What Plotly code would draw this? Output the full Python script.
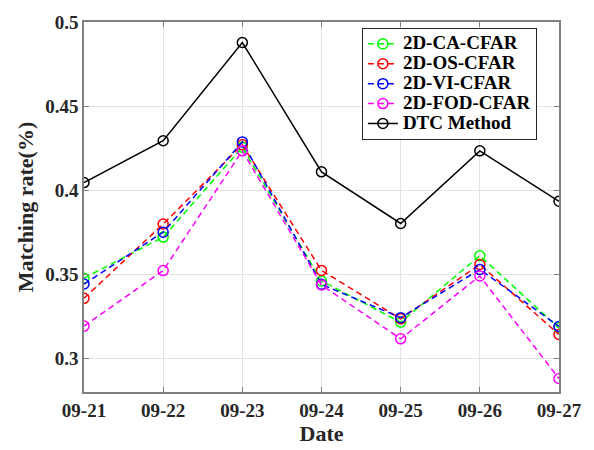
import plotly.graph_objects as go

dates = ["09-21", "09-22", "09-23", "09-24", "09-25", "09-26", "09-27"]
ca_cfar = [0.3477, 0.3721, 0.4255, 0.3460, 0.3215, 0.3610, 0.3180]
os_cfar = [0.3357, 0.3799, 0.4270, 0.3523, 0.3235, 0.3558, 0.3142]
vi_cfar = [0.3442, 0.3750, 0.4287, 0.3440, 0.3242, 0.3529, 0.3190]
fod_cfar = [0.3192, 0.3522, 0.4234, 0.3436, 0.3116, 0.3490, 0.2880]
dtc = [0.4045, 0.4294, 0.4878, 0.4109, 0.3802, 0.4234, 0.3934]

series = [
    ("2D-CA-CFAR", ca_cfar, "#00ff00", "dash"),
    ("2D-OS-CFAR", os_cfar, "#ff0000", "dash"),
    ("2D-VI-CFAR", vi_cfar, "#0000ff", "dash"),
    ("2D-FOD-CFAR", fod_cfar, "#ff00ff", "dash"),
    ("DTC Method", dtc, "#000000", "solid"),
]

x_idx = list(range(len(dates)))
fig = go.Figure()
for name, vals, color, dash in series:
    fig.add_trace(go.Scatter(
        x=x_idx, y=vals,
        name='<span style="font-size:19px"><b>%s</b></span>' % name,
        mode="lines+markers",
        line=dict(color=color, width=1.5, dash="solid" if dash == "solid" else "6px,4px"),
        marker=dict(symbol="circle-open", size=10, color=color, line=dict(width=1.5, color=color)),
    ))

font_family = "Liberation Serif, Times New Roman, serif"
fig.update_layout(
    width=594, height=450,
    margin=dict(l=84, r=35, t=15, b=58),
    paper_bgcolor="white", plot_bgcolor="white",
    font=dict(family=font_family, size=19, color="#262626"),
    showlegend=True,
    legend=dict(
        x=0.585, y=0.984, xanchor="left", yanchor="top",
        bgcolor="white", bordercolor="#262626", borderwidth=1,
        font=dict(family=font_family, size=13, color="#000000"),
        tracegroupgap=0,
    ),
)
fig.update_xaxes(
    range=[0, 6], tickmode="array", tickvals=x_idx, ticktext=["<b>%s</b>" % d for d in dates],
    showgrid=True, gridcolor="#e3e3e3", gridwidth=1,
    showline=True, linecolor="#808080", linewidth=1.5, mirror="allticks",
    ticks="inside", ticklen=5, tickcolor="#808080",
    title=dict(text="<b>Date</b>", font=dict(family=font_family, size=22, color="#262626"), standoff=0),
    zeroline=False,
)
yt = [0.3, 0.35, 0.4, 0.45, 0.5]
fig.update_yaxes(
    range=[0.28, 0.5], tickmode="array", tickvals=yt,
    ticktext=["<b>%s</b>" % t for t in ["0.3", "0.35", "0.4", "0.45", "0.5"]],
    showgrid=True, gridcolor="#e3e3e3", gridwidth=1,
    showline=True, linecolor="#808080", linewidth=1.5, mirror="allticks",
    ticks="inside", ticklen=5, tickcolor="#808080",
    title=dict(text="<b>Matching rate(%)</b>", font=dict(family=font_family, size=22, color="#262626"), standoff=6),
    zeroline=False,
)
fig.write_html("out.html")
